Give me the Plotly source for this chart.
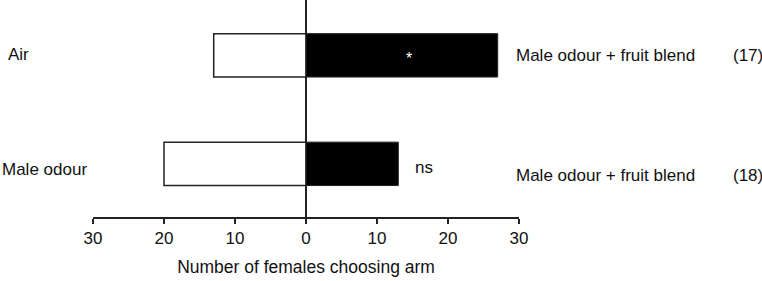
import plotly.graph_objects as go

# Data
left_labels = ["Air", "Male odour"]
right_labels = ["Male odour + fruit blend", "Male odour + fruit blend"]
left_counts = [13, 20]      # females choosing left arm (white bars)
right_counts = [27, 13]     # females choosing right arm (black bars)
significance = ["*", "ns"]
n_labels = ["(17)", "(18)"]
y_pos = [1, 0]
tick_vals = [-30, -20, -10, 0, 10, 20, 30]
tick_text = ["30", "20", "10", "0", "10", "20", "30"]

FONT = "Liberation Sans, Arial, sans-serif"
FS = 17

fig = go.Figure()
fig.add_trace(go.Bar(
    y=y_pos, x=[-v for v in left_counts], orientation="h", width=0.4,
    marker=dict(color="white", line=dict(color="#222", width=1.5)),
    showlegend=False, hoverinfo="skip"))
fig.add_trace(go.Bar(
    y=y_pos, x=right_counts, orientation="h", width=0.4,
    marker=dict(color="black", line=dict(color="#222", width=1)),
    showlegend=False, hoverinfo="skip"))

ann = []
L, W = 93, 426
def px(p):
    return (p - L) / W

left_x = [6, 0]
left_shift = [1, -6]
right_shift = [0, -12]
for i in range(2):
    ann.append(dict(x=px(left_x[i]), xref="paper", y=y_pos[i], yref="y", text=left_labels[i],
                    xanchor="left", yanchor="middle", showarrow=False, yshift=left_shift[i]))
    ann.append(dict(x=px(514), xref="paper", y=y_pos[i], yref="y", text=right_labels[i],
                    xanchor="left", yanchor="middle", showarrow=False, yshift=right_shift[i]))
    ann.append(dict(x=px(731), xref="paper", y=y_pos[i], yref="y", text=n_labels[i],
                    xanchor="left", yanchor="middle", showarrow=False, yshift=right_shift[i]))
# significance markers
ann.append(dict(x=right_counts[0] / 2 + 1, xref="x", y=y_pos[0], yref="y", text=significance[0],
                xanchor="center", yanchor="middle", showarrow=False, yshift=-3,
                font=dict(color="white", size=16)))
ann.append(dict(x=right_counts[1] + 2.0, xref="x", y=y_pos[1], yref="y", text=significance[1],
                xanchor="left", yanchor="middle", showarrow=False, yshift=-4))

fig.update_layout(
    width=762, height=281,
    margin=dict(l=L, r=762 - L - W, t=0, b=64),
    paper_bgcolor="white", plot_bgcolor="white",
    font=dict(family=FONT, size=FS, color="#111"),
    barmode="overlay",
    annotations=ann,
    xaxis=dict(range=[-30, 30], tickvals=tick_vals, ticktext=tick_text,
               showline=True, linecolor="#222", linewidth=1.5,
               ticks="outside", ticklen=5, tickwidth=1.5, tickcolor="#222",
               showgrid=False, zeroline=True, zerolinecolor="#222", zerolinewidth=1.5,
               title=dict(text="Number of females choosing arm", standoff=14,
                          font=dict(size=17.5)),
               fixedrange=True),
    yaxis=dict(range=[-0.49, 1.51], showticklabels=False, showgrid=False,
               zeroline=False, showline=False, ticks=""),
)
fig.write_html("out.html")
